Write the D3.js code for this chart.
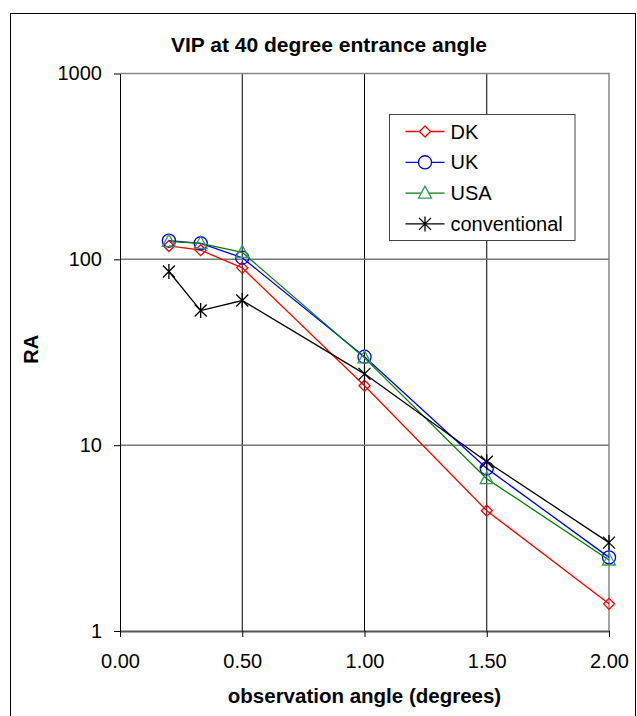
<!DOCTYPE html>
<html>
<head>
<meta charset="utf-8">
<script src="https://cdn.jsdelivr.net/npm/d3@7"></script>
<style>
  body { margin: 0; background: #fff; }
  svg { display: block; font-family: Arial, "Liberation Sans", sans-serif; }
</style>
</head>
<body>
<div id="chart"></div>
<script>
// data
var angles = [0.2, 0.33, 0.5, 1.0, 1.5, 2.0];
var dk = [118, 112, 90, 20.9, 4.44, 1.40];
var uk = [126, 122, 102, 29.9, 7.5, 2.49];
var usa = [125, 122, 109, 29.5, 6.6, 2.41];
var conventional = [86, 53, 60, 24.2, 8.15, 2.99];
var seriesNames = ["DK", "UK", "USA", "conventional"];
var xTicks = [0, 0.5, 1.0, 1.5, 2.0];
var yTicks = [1, 10, 100, 1000];

var svgW = 637, svgH = 716;
var margin = { left: 120, top: 73.5, right: 28, bottom: 85 };
var width = svgW - margin.left - margin.right,
	height = svgH - margin.top - margin.bottom;

var svg = d3.select("#chart")
	.append("svg")
	.attr("width", svgW)
	.attr("height", svgH);

// chart area border
svg.append("rect")
	.attr("x", 10.5).attr("y", 13.5)
	.attr("width", 625).attr("height", 720)
	.attr("fill", "white")
	.attr("stroke", "black");

var g = svg.append("g")
	.attr("transform", "translate(" + margin.left + "," + margin.top + ")");

var x = d3.scaleLinear().domain([0, 2]).range([0, width]);
var y = d3.scaleLog().domain([1, 1000]).range([height, 0]);

// gridlines
g.selectAll(".vgrid")
	.data(xTicks.slice(1, -1))
	.enter().append("line")
	.attr("x1", function(d) { return x(d); })
	.attr("x2", function(d) { return x(d); })
	.attr("y1", 0).attr("y2", height)
	.attr("stroke", "black");

g.selectAll(".hgrid")
	.data(yTicks.slice(1, -1))
	.enter().append("line")
	.attr("x1", 0).attr("x2", width)
	.attr("y1", function(d) { return y(d); })
	.attr("y2", function(d) { return y(d); })
	.attr("stroke", "#777")
	.attr("stroke-width", 1.5);

// plot area border (top, right)
g.append("path")
	.attr("d", "M0," + y(1000) + "H" + x(2) + "V" + y(1))
	.attr("fill", "none")
	.attr("stroke", "#888")
	.attr("stroke-width", 1.5);

// axes
var xAxis = d3.axisBottom(x)
	.tickValues(xTicks)
	.tickFormat(d3.format(".2f"))
	.tickSize(6)
	.tickPadding(17)
	.tickSizeOuter(0);

var gX = g.append("g")
	.attr("transform", "translate(0," + height + ")")
	.call(xAxis);
gX.select(".domain").attr("stroke", "#555").attr("stroke-width", 2);
gX.selectAll("text").attr("font-size", 20).attr("fill", "black").attr("font-family", "Arial, 'Liberation Sans', sans-serif");

var yAxis = d3.axisLeft(y)
	.tickValues(yTicks)
	.tickFormat(d3.format("d"))
	.tickSize(6)
	.tickPadding(12)
	.tickSizeOuter(0);

var gY = g.append("g").call(yAxis);
gY.selectAll("text").attr("font-size", 20).attr("fill", "black").attr("font-family", "Arial, 'Liberation Sans', sans-serif");

// series
var series = [
	{ name: seriesNames[0], values: dk, line: "#ff0000", marker: "#ff0000", shape: "diamond" },
	{ name: seriesNames[1], values: uk, line: "#0000ff", marker: "#0000ff", shape: "circle" },
	{ name: seriesNames[2], values: usa, line: "#008000", marker: "#339966", shape: "triangle" },
	{ name: seriesNames[3], values: conventional, line: "#000000", marker: "#000000", shape: "star" }
];

function markerPath(shape) {
	if (shape === "diamond") return "M0,-5.5L5.5,0L0,5.5L-5.5,0Z";
	if (shape === "circle") return d3.symbol().type(d3.symbolCircle).size(135)();
	if (shape === "triangle") return "M0,-7L6.5,5L-6.5,5Z";
	return "M-6,-6L6,6M-6,6L6,-6M0,-7.5L0,7.5";
}

var line = d3.line()
	.x(function(d) { return x(d.a); })
	.y(function(d) { return y(d.v); });

series.forEach(function(s) {
	var pts = angles.map(function(a, i) { return { a: a, v: s.values[i] }; });
	g.append("path")
		.datum(pts)
		.attr("d", line)
		.attr("fill", "none")
		.attr("stroke", s.line)
		.attr("stroke-width", 1.3);
	g.selectAll(".m-" + s.shape)
		.data(pts)
		.enter().append("path")
		.attr("transform", function(d) { return "translate(" + x(d.a) + "," + y(d.v) + ")"; })
		.attr("d", markerPath(s.shape))
		.attr("fill", "none")
		.attr("stroke", s.marker)
		.attr("stroke-width", 1.3);
});

// titles
svg.append("text")
	.attr("x", 329).attr("y", 52)
	.attr("text-anchor", "middle")
	.attr("font-size", 21).attr("font-weight", "bold")
	.text("VIP at 40 degree entrance angle");

svg.append("text")
	.attr("transform", "translate(38," + (margin.top + height / 2 - 3) + ") rotate(-90)")
	.attr("text-anchor", "middle")
	.attr("font-size", 20).attr("font-weight", "bold")
	.text("RA");

svg.append("text")
	.attr("x", margin.left + width / 2).attr("y", 703)
	.attr("text-anchor", "middle")
	.attr("font-size", 20.5).attr("font-weight", "bold")
	.text("observation angle (degrees)");

// legend
var legend = svg.append("g")
	.attr("transform", "translate(389.5,114.5)");

legend.append("rect")
	.attr("width", 185.5).attr("height", 126)
	.attr("fill", "white")
	.attr("stroke", "#444");

var entry = legend.selectAll(".entry")
	.data(series)
	.enter().append("g")
	.attr("transform", function(d, i) { return "translate(0," + (17 + i * 30.8) + ")"; });

entry.append("line")
	.attr("x1", 16).attr("x2", 55)
	.attr("stroke", function(d) { return d.line; })
	.attr("stroke-width", 1.3);

entry.append("path")
	.attr("transform", "translate(35.5,0)")
	.attr("d", function(d) { return markerPath(d.shape); })
	.attr("fill", function(d) { return d.shape === "star" ? "none" : "white"; })
	.attr("stroke", function(d) { return d.marker; })
	.attr("stroke-width", 1.3);

entry.append("text")
	.attr("x", 61).attr("dy", "0.35em")
	.attr("font-size", 20)
	.text(function(d) { return d.name; });
</script>
</body>
</html>
